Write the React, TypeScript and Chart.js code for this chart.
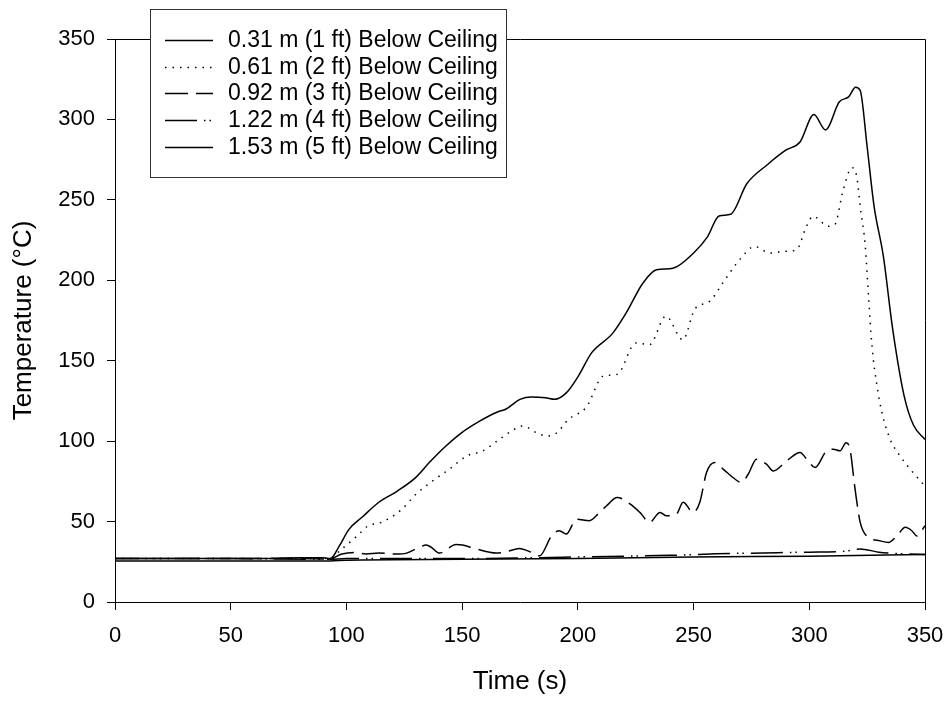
import React, { useEffect, useRef } from 'react';
import { Chart, registerables } from 'chart.js';

Chart.register(...registerables);

const FONT = "'Liberation Sans', Arial, Helvetica, sans-serif";

const seriesLabels = [
  '0.31 m (1 ft) Below Ceiling',
  '0.61 m (2 ft) Below Ceiling',
  '0.92 m (3 ft) Below Ceiling',
  '1.22 m (4 ft) Below Ceiling',
  '1.53 m (5 ft) Below Ceiling',
];

const xTickValues = [0, 50, 100, 150, 200, 250, 300, 350];
const yTickValues = [0, 50, 100, 150, 200, 250, 300, 350];

// 0.31 m
const time1 = [0, 20, 40, 60, 80, 90, 93, 97, 101, 107, 114, 122, 130, 136, 143, 150, 157, 165, 169, 175, 180, 186, 190, 195, 200, 206, 215, 221, 228, 234, 241, 250, 256, 261, 266, 273, 282, 290, 296, 302, 307, 313, 317, 320, 322, 325, 328, 332, 336, 341, 345, 350];
const temp1 = [27, 27, 27, 27, 27.5, 27.5, 27, 35, 45, 53, 62, 69, 77.5, 87, 97, 105.5, 112, 118, 120, 126, 127.5, 127, 126, 130, 140, 155, 167, 180, 198, 206.5, 207.5, 217, 227, 240, 241, 260, 272, 281, 286, 303, 293.5, 311, 314, 320, 318, 283, 246, 215, 170, 128, 110, 101];

// 0.61 m
const time2 = [0, 20, 40, 60, 80, 92.6, 98, 103, 106, 109, 116, 124, 130, 137, 144.5, 152, 159, 166, 172.6, 176, 183.5, 187, 191, 196, 203.6, 211, 217, 225, 231, 238, 245.4, 250.5, 257, 262.7, 270, 276.4, 283, 290, 294.5, 298.8, 301.7, 308.2, 311, 314.7, 318.4, 320.5, 322, 324.2, 325.6, 327.1, 329.3, 331.4, 335, 339.2, 343.6, 350];
const temp2 = [27, 27, 27, 27, 27, 27, 33, 39, 43, 47, 50, 57.7, 67, 75, 82.6, 90.8, 94, 101, 107.4, 109.4, 104.3, 103.2, 105.3, 113.6, 121, 140.5, 141.5, 161, 160, 177.7, 163, 182, 187, 198.5, 213, 221, 217, 218, 219, 233.6, 239.8, 233.6, 234.6, 256.4, 270, 264.6, 246, 221, 190, 159, 134, 117.7, 101, 90.8, 82.6, 72];

// 0.92 m
const time3 = [0, 20, 40, 60, 80, 92.6, 98, 103.4, 108.4, 114, 121.5, 126, 131.5, 134.5, 136.7, 140.2, 147.4, 150.2, 156, 164.7, 169, 174.8, 178.4, 183.5, 188.6, 192, 195, 199.4, 205, 209.4, 212.4, 217, 222.5, 226.8, 231, 235.5, 238.3, 242.6, 245.5, 249.8, 252.7, 255.6, 259.2, 262.8, 267, 270.7, 273.6, 277.2, 281.5, 284.4, 290.2, 296, 298.9, 302.5, 307.5, 310.4, 313.3, 315.9, 317.6, 319.8, 322, 324.8, 330.6, 334.2, 337.8, 341.5, 344.3, 346.5, 350];
const temp3 = [27, 27, 27, 27, 27, 26.7, 29.8, 30.8, 29.8, 30.4, 29.8, 30.4, 34, 35.4, 34, 30.4, 35.8, 35.4, 33, 30.4, 31.2, 33.3, 31.8, 28.7, 41, 44.3, 42.2, 51.5, 50.5, 55.7, 59.8, 65, 61, 55.7, 49.5, 55.7, 53.6, 54.6, 62, 55.7, 62, 80.5, 86.7, 82.6, 77.4, 74.3, 79.4, 88.8, 85.7, 81.5, 87.7, 93, 88.8, 83.6, 94, 95, 94, 99, 95, 70, 49.5, 41, 38, 37, 41, 46.4, 44.3, 41, 47.4];

// 1.22 m
const time4 = [0, 50, 93, 100, 150, 180, 200, 220, 240, 260, 280, 300, 315, 322, 330, 340, 350];
const temp4 = [27, 27, 26.5, 27, 27, 27.5, 28, 28.5, 29, 30, 30.5, 31, 31.5, 33, 31, 30, 29.5];

// 1.53 m
const time5 = [0, 50, 93, 100, 150, 200, 250, 300, 350];
const temp5 = [25.5, 25.5, 25.5, 26, 26.5, 27, 28, 28.5, 29.5];

const times = [time1, time2, time3, time4, time5];
const temps = [temp1, temp2, temp3, temp4, temp5];
const dashes: number[][] = [[], [1.5, 6], [23, 8], [32, 7, 1.5, 4, 1.5, 7], []];

const framePlugin = {
  id: 'frameAndLegend',
  afterDraw(chart: any) {
    const ctx = chart.ctx as CanvasRenderingContext2D;
    const { left, right, top, bottom } = chart.chartArea;
    ctx.save();
    ctx.strokeStyle = '#000';
    ctx.lineWidth = 1;
    ctx.setLineDash([]);
    ctx.beginPath();
    const ty = Math.round(top) + 0.5;
    const rx = Math.round(right) + 0.5;
    ctx.moveTo(left, ty);
    ctx.lineTo(rx, ty);
    ctx.moveTo(rx, ty);
    ctx.lineTo(rx, bottom);
    ctx.stroke();

    // legend box
    const bx = 150.5, by = 9.5, bw = 356, bh = 168;
    ctx.fillStyle = '#fff';
    ctx.fillRect(bx, by, bw, bh);
    ctx.strokeStyle = '#333';
    ctx.strokeRect(bx, by, bw, bh);

    ctx.font = `23px ${FONT}`;
    ctx.textBaseline = 'middle';
    ctx.textAlign = 'left';
    chart.data.datasets.forEach((ds: any, i: number) => {
      const y = Math.round(40 + i * 26.7) + 0.5;
      ctx.strokeStyle = '#000';
      ctx.lineWidth = ds.borderWidth;
      ctx.setLineDash(ds.borderDash || []);
      ctx.beginPath();
      ctx.moveTo(165, y);
      ctx.lineTo(213, y);
      ctx.stroke();
      ctx.setLineDash([]);
      ctx.fillStyle = '#000';
      ctx.fillText(ds.label, 228, y);
    });
    ctx.restore();
  },
};

export default function App() {
  const ref = useRef<HTMLCanvasElement>(null);
  useEffect(() => {
    document.body.style.margin = '0';
    const datasets = seriesLabels.map((label, i) => ({
      label,
      data: times[i].map((t, j) => ({ x: t, y: temps[i][j] })),
      borderColor: '#000',
      backgroundColor: '#000',
      borderWidth: 1.5,
      borderDash: dashes[i],
      pointRadius: 0,
      fill: false,
      cubicInterpolationMode: 'monotone' as const,
    }));
    const chart = new Chart(ref.current!, {
      type: 'line',
      data: { datasets },
      options: {
        animation: false,
        responsive: false,
        devicePixelRatio: 1,
        layout: { padding: { left: 0, top: 39, right: 22, bottom: 0 } },
        plugins: { legend: { display: false }, tooltip: { enabled: false } },
        scales: {
          x: {
            type: 'linear',
            min: 0,
            max: 350,
            afterBuildTicks: (s: any) => { s.ticks = xTickValues.map((v) => ({ value: v })); },
            afterFit: (s: any) => { s.height = 100; s.paddingLeft = 0; s.paddingRight = 0; },
            ticks: { font: { size: 22, family: FONT }, color: '#000', padding: 13, autoSkip: false, maxRotation: 0 },
            grid: { display: true, drawOnChartArea: false, drawTicks: true, tickLength: 8, color: '#000', lineWidth: 1 },
            border: { display: true, color: '#000', width: 1 },
            title: { display: true, text: 'Time (s)', font: { size: 26, family: FONT }, color: '#000', padding: { top: 0, bottom: 5 } },
          },
          y: {
            type: 'linear',
            min: 0,
            max: 350,
            afterBuildTicks: (s: any) => { s.ticks = yTickValues.map((v) => ({ value: v })); },
            afterFit: (s: any) => { s.width = 115; s.paddingTop = 0; s.paddingBottom = 0; },
            ticks: { font: { size: 22, family: FONT }, color: '#000', padding: 12, autoSkip: false },
            grid: { display: true, drawOnChartArea: false, drawTicks: true, tickLength: 8, color: '#000', lineWidth: 1 },
            border: { display: true, color: '#000', width: 1 },
            title: { display: true, text: 'Temperature (°C)', font: { size: 26, family: FONT }, color: '#000', padding: { top: 8, bottom: 0 } },
          },
        },
      },
      plugins: [framePlugin],
    });
    return () => chart.destroy();
  }, []);
  return (
    <div style={{ width: 947, height: 702 }}>
      <canvas ref={ref} width={947} height={702} style={{ display: 'block' }} />
    </div>
  );
}
